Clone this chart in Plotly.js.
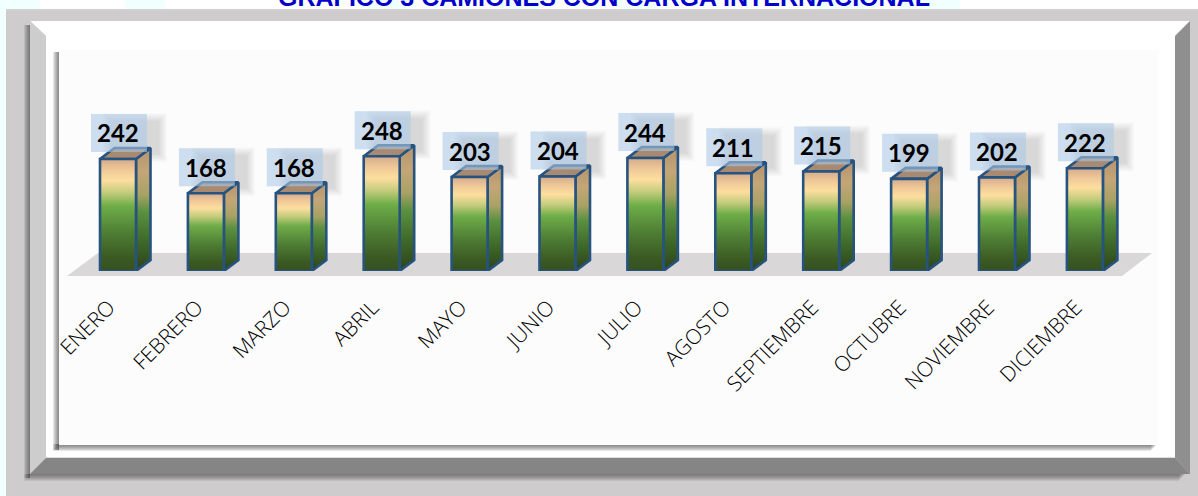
<!DOCTYPE html>
<html><head><meta charset="utf-8">
<script src="https://cdn.plot.ly/plotly-3.0.1.min.js"></script>
<style>html,body{margin:0;padding:0;background:#fff;overflow:hidden}#c{width:1198px;height:496px}</style>
</head><body><div id="c"></div>
<script>
const months=["ENERO","FEBRERO","MARZO","ABRIL","MAYO","JUNIO","JULIO","AGOSTO","SEPTIEMBRE","OCTUBRE","NOVIEMBRE","DICIEMBRE"];
const trucks=[242,168,168,248,203,204,244,211,215,199,202,222];
const W=1198,H=496;
const chartTitle="GRAFICO 3 CAMIONES CON CARGA INTERNACIONAL";

// axis layout in px
const plotL=68,plotR=1152,plotT=60,plotB=271;
const pxPerCat=87.9, firstCenter=118, pxPerUnit=0.463;
const xMin=(plotL-firstCenter)/pxPerCat, xMax=(plotR-firstCenter)/pxPerCat;
const yMax=(plotB-plotT)/pxPerUnit;
const halfW=18/pxPerCat, dx=14.5/pxPerCat, dy=11/pxPerUnit;
const outline="#265380";

// colorscale position 1 is the top of the face
const frontScale=[[0,"#34501f"],[0.12,"#3b5a23"],[0.35,"#4f7f35"],[0.58,"#6ead48"],[0.70,"#c4cc7c"],[0.81,"#fdde9f"],[0.90,"#f0c998"],[1,"#d5ab8c"]];
const sideScale=[[0,"#2c4219"],[0.25,"#3f6a2b"],[0.48,"#5a9040"],[0.62,"#a8a264"],[0.8,"#c4a677"],[1,"#b3936f"]];

const traces=[];
function face(xs,ys,grad,color){
  const t={x:xs,y:ys,type:"scatter",mode:"lines",fill:"toself",hoverinfo:"skip",showlegend:false,
    line:{color:outline,width:2.6,shape:"linear"}};
  if(grad) {t.fillgradient={type:"vertical",colorscale:grad};t.fillcolor="rgba(0,0,0,0)";}
  else t.fillcolor=color;
  traces.push(t);
}
trucks.forEach((v,i)=>{
  const a=i-halfW,b=i+halfW;
  face([b,b+dx,b+dx,b,b],[0,dy,v+dy,v,0],sideScale);
  face([a,b,b+dx,a+dx,a],[v,v,v+dy,v+dy,v],null,"#a88a72");
  face([a,b,b,a,a],[0,0,v,v,0],frontScale);
});

// page-pixel helpers
const X=p=>p/W, Y=p=>1-p/H;
function rect(x0,y0,x1,y1,fill,layer){return {type:"rect",xref:"paper",yref:"paper",x0:X(x0),x1:X(x1),y0:Y(y1),y1:Y(y0),fillcolor:fill,line:{width:0},layer:layer||"below"};}
function poly(pts,fill,layer){return {type:"path",xref:"paper",yref:"paper",path:"M"+pts.map(p=>X(p[0])+","+Y(p[1])).join("L")+"Z",fillcolor:fill,line:{width:0},layer:layer||"below"};}
const shapes=[];
// faint cyan patches behind the title
[[0,40],[125,165],[368,410],[500,540],[620,660],[815,865],[900,960]].forEach(p=>shapes.push(rect(p[0],0,p[1],9,"#f2ffff")));
shapes.push(rect(0,0,6,H,"#f2ffff"));
// outer mat
shapes.push(rect(6,9,W,H,"#cecccd"));
shapes.push(rect(6,9,W,11,"#d2d0d1"));
// soft shadow of the frame
for(let k=0;k<7;k++){
  shapes.push(rect(30-k,25,30,478,"rgba(60,60,60,0.13)"));
  shapes.push(rect(30-k,474,1185-k,474+k+1,"rgba(60,60,60,0.11)"));
}
// bevels
shapes.push(poly([[30,21],[1190,21],[1175,36],[46,36]],"#ffffff"));
shapes.push(poly([[30,21],[46,36],[46,458],[30,474]],"#cdcdcd"));
shapes.push(poly([[1190,21],[1190,474],[1175,458],[1175,36]],"#8f8f8f"));
shapes.push(poly([[30,474],[46,458],[1175,458],[1190,474]],"#858585"));
// inner face
shapes.push(rect(46,36,1175,458,"#ffffff"));
shapes.push(rect(46,457,1175,458,"#dddddd"));
// panel shadow
for(let k=0;k<7;k++){
  shapes.push(rect(59-k,52,59,450,"rgba(50,50,50,0.12)"));
  shapes.push(rect(59-k,444,1157-k,445+k,"rgba(50,50,50,0.12)"));
}
// panel
shapes.push(rect(59,50,1158,445,"#fcfcfc"));
// floor
shapes.push(poly([[67,276],[98,253],[1152,253],[1122,276]],"#d9d7d8"));

// label boxes, anchored on data values
const boxY0=7, boxH=38, boxHalf=28;
trucks.forEach((v,i)=>{
  for(let k=0;k<9;k++){
    shapes.push({type:"rect",xref:"x",yref:"y",xsizemode:"pixel",ysizemode:"pixel",xanchor:i,yanchor:v,
      x0:-boxHalf+13+k,x1:boxHalf+21-k,y0:boxY0-10+k,y1:boxY0+boxH+1-k,fillcolor:"rgba(100,100,100,0.025)",line:{width:0},layer:"below"});
  }
  shapes.push({type:"rect",xref:"x",yref:"y",xsizemode:"pixel",ysizemode:"pixel",xanchor:i,yanchor:v,
    x0:-boxHalf+1,x1:boxHalf+1,y0:boxY0,y1:boxY0+boxH,fillcolor:"rgba(168,200,230,0.58)",line:{width:0},layer:"above"});
});

const annotations=trucks.map((v,i)=>({x:i,y:v,xref:"x",yref:"y",text:"<b>"+v+"</b>",showarrow:false,
  xanchor:"center",yanchor:"middle",yshift:boxY0+boxH/2,xshift:0,font:{family:"Lato, 'Open Sans', sans-serif",size:24,color:"#000"}}));

const layout={
  width:W,height:H,margin:{l:0,r:0,t:0,b:0},autosize:false,showlegend:false,
  paper_bgcolor:"#ffffff",plot_bgcolor:"rgba(0,0,0,0)",
  title:{text:"<b>"+chartTitle+"</b>",x:604/W,xanchor:"center",y:1-6/H,yanchor:"bottom",yref:"paper",
    font:{family:"'Liberation Sans', Arial, sans-serif",size:25,color:"#0000c8"}},
  xaxis:{domain:[plotL/W,plotR/W],range:[xMin,xMax],tickmode:"array",tickvals:months.map((m,i)=>i),ticktext:months,
    tickangle:-45,ticks:"",ticklabelstandoff:19,ticklabelshift:-9,showgrid:false,zeroline:false,showline:false,
    tickfont:{family:"'Open Sans', Lato, sans-serif",size:21,color:"#000000",weight:300},automargin:false},
  yaxis:{domain:[1-plotB/H,1-plotT/H],range:[0,yMax],visible:false,showgrid:false,zeroline:false,automargin:false},
  shapes,annotations
};
Plotly.newPlot("c",traces,layout,{displayModeBar:false,staticPlot:true});
</script></body></html>
